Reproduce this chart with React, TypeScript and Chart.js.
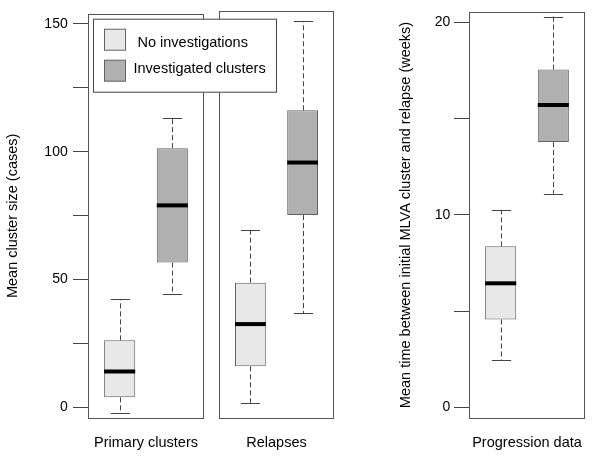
import React, { useEffect, useRef } from "react";
import { Chart, registerables } from "chart.js";

Chart.register(...registerables);

// ---------- data ----------
const groups = ["No investigations", "Investigated clusters"];

const primaryLabels = ["Primary clusters"];
const primaryLow = [-2.3, 44.3];
const primaryQ1 = [3.9, 56.6];
const primaryMedian = [14.0, 79.0];
const primaryQ3 = [26.2, 101.4];
const primaryHigh = [42.2, 113.3];

const relapseLabels = ["Relapses"];
const relapseLow = [1.7, 36.5];
const relapseQ1 = [15.9, 74.7];
const relapseMedian = [32.3, 95.1];
const relapseQ3 = [48.4, 115.4];
const relapseHigh = [68.8, 150.0];

const progressionLabels = ["Progression data"];
const progressionLow = [2.44, 11.09];
const progressionQ1 = [4.56, 13.78];
const progressionMedian = [6.44, 15.7];
const progressionQ3 = [8.36, 17.54];
const progressionHigh = [10.26, 20.29];

const sizeTicks = [0, 25, 50, 75, 100, 125, 150];
const sizeTickLabels = [0, 50, 100, 150];
const weekTicks = [0, 5, 10, 15, 20];
const weekTickLabels = [0, 10, 20];

const sizeTitle = "Mean cluster size (cases)";
const weekTitle = "Mean time between initial MLVA cluster and relapse (weeks)";

// ---------- styles ----------
const FONT = "'Liberation Sans', Arial, sans-serif";
const fills = ["#e8e8e8", "#b0b0b0"];
const boxBorder = "#626262";
const lineColor = "#444444";

const boxPlugin = {
  id: "boxWhiskers",
  afterDatasetsDraw(chart: any) {
    const ctx = chart.ctx;
    const y = chart.scales.y;
    chart.data.datasets.forEach((ds: any, i: number) => {
      const meta = chart.getDatasetMeta(i);
      meta.data.forEach((bar: any, j: number) => {
        const { x, width } = bar.getProps(["x", "width"], true);
        const lo = y.getPixelForValue(ds.low[j]);
        const hi = y.getPixelForValue(ds.high[j]);
        const q1 = y.getPixelForValue(ds.data[j][0]);
        const q3 = y.getPixelForValue(ds.data[j][1]);
        const med = y.getPixelForValue(ds.median[j]);
        const cx = Math.round(x) + 0.5;
        const cap = width * 0.31;
        ctx.save();
        ctx.strokeStyle = lineColor;
        ctx.lineWidth = 1;
        ctx.setLineDash([5, 3]);
        ctx.beginPath();
        ctx.moveTo(cx, q3);
        ctx.lineTo(cx, hi);
        ctx.moveTo(cx, q1);
        ctx.lineTo(cx, lo);
        ctx.stroke();
        ctx.setLineDash([]);
        ctx.beginPath();
        ctx.moveTo(cx - cap, Math.round(hi) + 0.5);
        ctx.lineTo(cx + cap, Math.round(hi) + 0.5);
        ctx.moveTo(cx - cap, Math.round(lo) + 0.5);
        ctx.lineTo(cx + cap, Math.round(lo) + 0.5);
        ctx.stroke();
        ctx.strokeStyle = "#000";
        ctx.lineWidth = 4;
        ctx.beginPath();
        ctx.moveTo(x - width / 2, med);
        ctx.lineTo(x + width / 2, med);
        ctx.stroke();
        ctx.restore();
      });
    });
    const a = chart.chartArea;
    ctx.save();
    ctx.strokeStyle = "#555";
    ctx.lineWidth = 1;
    ctx.strokeRect(Math.round(a.left) + 0.5, Math.round(a.top) + 0.5, Math.round(a.right - a.left) - 1, Math.round(a.bottom - a.top));
    ctx.restore();
  },
};

const legendPlugin = {
  id: "boxLegend",
  afterDraw(chart: any) {
    const ctx = chart.ctx;
    const a = chart.chartArea;
    const lx = a.left + 5.5;
    const ly = a.top + 5.5;
    ctx.save();
    ctx.fillStyle = "#fff";
    ctx.fillRect(lx, ly, 183, 73);
    ctx.strokeStyle = "#444";
    ctx.lineWidth = 1;
    ctx.strokeRect(lx, ly, 183, 73);
    const rows = [
      { sy: ly + 10, ty: ly + 24, tx: lx + 44 },
      { sy: ly + 41, ty: ly + 50, tx: lx + 40 },
    ];
    groups.forEach((g, i) => {
      const r = rows[i];
      ctx.fillStyle = fills[i];
      ctx.fillRect(lx + 11, r.sy, 21, 21);
      ctx.strokeStyle = boxBorder;
      ctx.strokeRect(lx + 11, r.sy, 21, 21);
      ctx.fillStyle = "#000";
      ctx.font = `14.5px ${FONT}`;
      ctx.textAlign = "left";
      ctx.textBaseline = "middle";
      ctx.fillText(g, r.tx, r.ty);
    });
    ctx.restore();
  },
};

type PanelProps = {
  labels: string[];
  low: number[];
  q1: number[];
  median: number[];
  q3: number[];
  high: number[];
  yMin: number;
  yMax: number;
  ticks: number[];
  tickLabels: number[];
  title?: string;
  showY: boolean;
  yWidth: number;
  titlePad: number;
  tickPad: number;
  padding: { left: number; right: number; top: number; bottom: number };
  legend?: boolean;
  left: number;
  width: number;
};

function Panel(p: PanelProps) {
  const ref = useRef<HTMLCanvasElement>(null);
  useEffect(() => {
    if (!ref.current) return;
    const datasets = groups.map((g, i) => ({
      label: g,
      data: [[p.q1[i], p.q3[i]]],
      low: [p.low[i]],
      high: [p.high[i]],
      median: [p.median[i]],
      backgroundColor: fills[i],
      borderColor: boxBorder,
      borderWidth: 1,
      borderSkipped: false,
      categoryPercentage: 0.908,
      barPercentage: 0.59,
    }));
    const chart = new Chart(ref.current, {
      type: "bar",
      data: { labels: p.labels, datasets: datasets as any },
      options: {
        animation: false,
        responsive: false,
        events: [],
        layout: { padding: p.padding },
        plugins: { legend: { display: false }, tooltip: { enabled: false } },
        scales: {
          x: {
            grid: { display: false },
            border: { display: false },
            ticks: { color: "#000", font: { family: FONT, size: 14.5 }, padding: 8 },
            afterFit: (s: any) => {
              s.height = 44;
            },
          },
          y: {
            display: p.showY,
            min: p.yMin,
            max: p.yMax,
            afterBuildTicks: (s: any) => {
              s.ticks = p.ticks.map((v) => ({ value: v }));
            },
            afterFit: (s: any) => {
              s.width = p.yWidth;
            },
            grid: {
              drawOnChartArea: false,
              drawTicks: true,
              tickLength: 15,
              color: lineColor,
            },
            border: { display: false },
            ticks: {
              color: "#000",
              font: { family: FONT, size: 14 },
              padding: p.tickPad,
              autoSkip: false,
              callback: (v: any) => (p.tickLabels.includes(Number(v)) ? String(v) : ""),
            },
            title: {
              display: !!p.title,
              text: p.title || "",
              color: "#000",
              font: { family: FONT, size: 14.5 },
              padding: { top: p.titlePad, bottom: 0 },
            },
          },
        },
      },
      plugins: p.legend ? [boxPlugin, legendPlugin] : [boxPlugin],
    } as any);
    return () => chart.destroy();
  }, []);
  return (
    <canvas
      ref={ref}
      width={p.width}
      height={462}
      style={{ position: "absolute", left: p.left, top: 0, width: p.width, height: 462 }}
    />
  );
}

export default function App() {
  return (
    <div style={{ position: "absolute", left: 0, top: 0, width: 600, height: 462, background: "#fff" }}>
      <Panel
        labels={relapseLabels}
        low={relapseLow}
        q1={relapseQ1}
        median={relapseMedian}
        q3={relapseQ3}
        high={relapseHigh}
        yMin={-4.2}
        yMax={154}
        ticks={sizeTicks}
        tickLabels={sizeTickLabels}
        showY={false}
        yWidth={0}
        titlePad={0}
        tickPad={0}
        padding={{ left: 14, right: 6, top: 11, bottom: 0 }}
        left={205}
        width={135}
      />
      <Panel
        labels={progressionLabels}
        low={progressionLow}
        q1={progressionQ1}
        median={progressionMedian}
        q3={progressionQ3}
        high={progressionHigh}
        yMin={-0.554}
        yMax={20.53}
        ticks={weekTicks}
        tickLabels={weekTickLabels}
        title={weekTitle}
        showY={true}
        yWidth={89}
        titlePad={16.8}
        tickPad={3.6}
        padding={{ left: 0, right: 15, top: 11, bottom: 0 }}
        left={380}
        width={220}
      />
      <Panel
        labels={primaryLabels}
        low={primaryLow}
        q1={primaryQ1}
        median={primaryMedian}
        q3={primaryQ3}
        high={primaryHigh}
        yMin={-4.2}
        yMax={154}
        ticks={sizeTicks}
        tickLabels={sizeTickLabels}
        title={sizeTitle}
        showY={true}
        yWidth={88}
        titlePad={4.6}
        tickPad={5.3}
        padding={{ left: 0, right: 136, top: 11, bottom: 0 }}
        legend={true}
        left={0}
        width={340}
      />
    </div>
  );
}
